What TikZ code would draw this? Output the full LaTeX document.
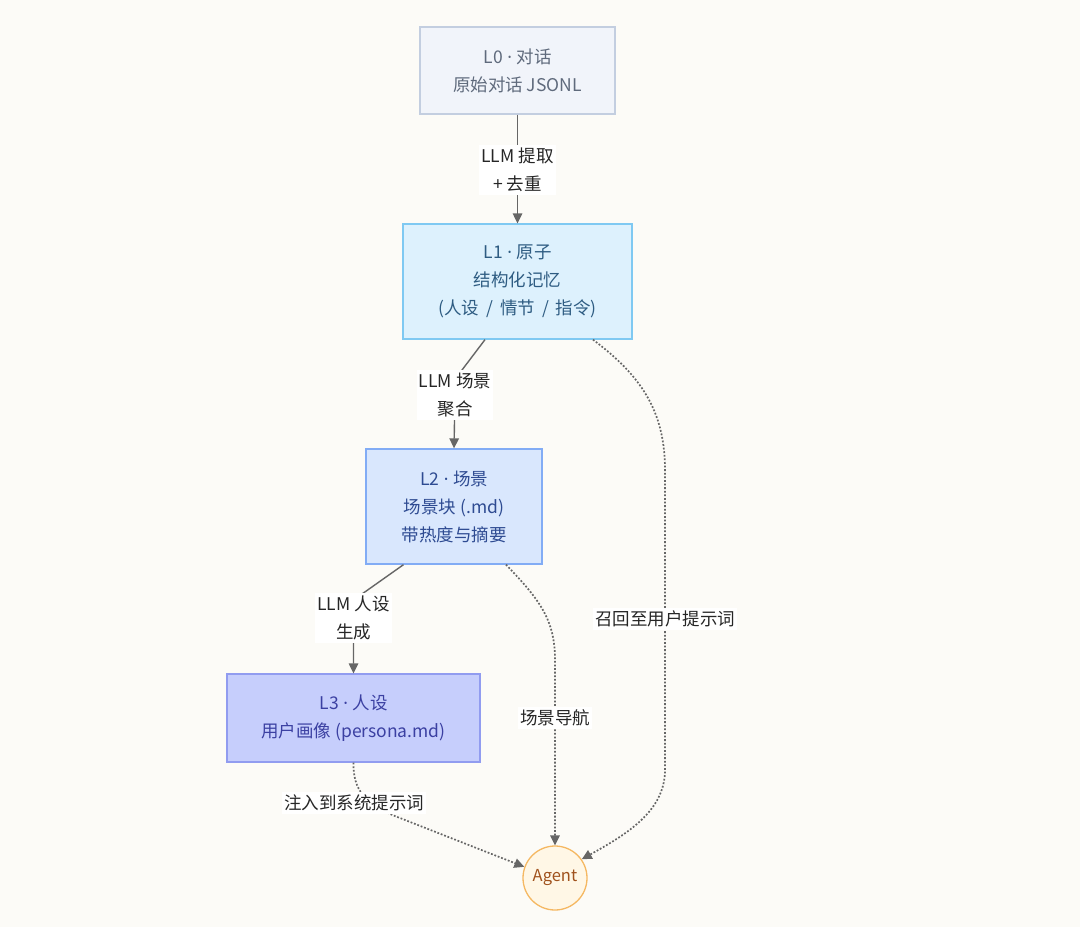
\documentclass[tikz,border=0pt]{standalone}
\usepackage{fontspec}
\newfontfamily\cjk{Noto Sans CJK SC}
\newfontfamily\lat{Noto Sans}
\newcommand{\mdot}{{\lat\ ·\ }}
\usetikzlibrary{arrows.meta,calc}
\definecolor{bg}{HTML}{FCFBF7}
\definecolor{edgec}{HTML}{666666}
\definecolor{lzf}{HTML}{F1F4FA}\definecolor{lzd}{HTML}{C3CEE0}\definecolor{lzt}{HTML}{5F6A7C}
\definecolor{lof}{HTML}{DDF1FD}\definecolor{lod}{HTML}{7FC9F2}\definecolor{lot}{HTML}{2E5C82}
\definecolor{ltf}{HTML}{D9E7FD}\definecolor{ltd}{HTML}{82ACF5}\definecolor{ltt}{HTML}{2E4B92}
\definecolor{lrf}{HTML}{C6CEFC}\definecolor{lrd}{HTML}{919CF0}\definecolor{lrt}{HTML}{3B40A2}
\definecolor{agf}{HTML}{FFF7E6}\definecolor{agd}{HTML}{F5B862}\definecolor{agt}{HTML}{A0521D}
\begin{document}
\begin{tikzpicture}[x=1pt,y=-1pt,
  box/.style={draw, line width=1.3pt, align=center, font=\cjk\fontsize{17.5}{28}\selectfont, inner sep=0pt},
  elabel/.style={fill=white, align=center, font=\cjk\fontsize{17.5}{28}\selectfont, text=black!85, inner xsep=2pt, inner ysep=3pt},
  edge/.style={draw=edgec, line width=1.4pt, -{Triangle[length=10pt,width=9.5pt]}},
  dotedge/.style={edge, line width=1.7pt, dash pattern=on 1.8pt off 1.8pt}
]
\fill[bg] (0,0) rectangle (1080,927);
\useasboundingbox (0,0) rectangle (1080,927);

\node[box, fill=lzf, draw=lzd, text=lzt, minimum width=195pt, minimum height=87pt] (L0) at (517.5,70.5) {L0\mdot{}对话\\原始对话 JSONL};
\node[box, fill=lof, draw=lod, text=lot, minimum width=229pt, minimum height=115pt] (L1) at (517.5,281.5) {L1\mdot{}原子\\结构化记忆\\(人设\hspace{7pt}/\hspace{7pt}情节\hspace{7pt}/\hspace{7pt}指令)};
\node[box, fill=ltf, draw=ltd, text=ltt, minimum width=176pt, minimum height=115pt] (L2) at (454,506.5) {L2\mdot{}场景\\场景块 (.md)\\带热度与摘要};
\node[box, fill=lrf, draw=lrd, text=lrt, minimum width=253pt, minimum height=88pt] (L3) at (353.5,718) {L3\mdot{}人设\\用户画像 (persona.md)};
\node[circle, draw=agd, fill=agf, line width=1.3pt, minimum size=64pt, inner sep=0pt, text=agt, font=\cjk\fontsize{16.5}{20}\selectfont] (A) at (555,878) {Agent};

\coordinate (c01) at (517.5,170);
\coordinate (c12) at (455,395);
\coordinate (c23) at (353.5,618);
\coordinate (c1a) at (665,619);
\coordinate (c2a) at (555,718);
\coordinate (c3a) at (354,803);

% solid edges
\draw[edge] (L0.south) -- (L1.north);
\draw[edge] ([xshift=-32.5pt]L1.south) -- (462,370) .. controls (456,379) and (455,385) .. (c12) -- (L2.north);
\draw[edge] ([xshift=-50.5pt]L2.south) -- (362,594) .. controls (355,600) and (353.5,606) .. (c23) -- (L3.north);

% dotted edges
\draw[dotedge] ([xshift=75.5pt]L1.south) .. controls (640,375) and (665,410) .. (665,470) -- (665,770) .. controls (665,812) and (625,835) .. (A.35);
\draw[dotedge] ([xshift=52pt]L2.south) .. controls (540,600) and (555,620) .. (555,660) -- (A.north);
\draw[dotedge] (L3.south) .. controls (353,790) and (365,805) .. (400,818) -- (A.160);

% labels
\node[elabel] at (c01) {LLM 提取\\+ 去重};
\node[elabel] at (c12) {LLM 场景\\聚合};
\node[elabel] at (c23) {LLM 人设\\生成};
\node[elabel] at (c1a) {召回至用户提示词};
\node[elabel] at (c2a) {场景导航};
\node[elabel] at (c3a) {注入到系统提示词};
\end{tikzpicture}
\end{document}
